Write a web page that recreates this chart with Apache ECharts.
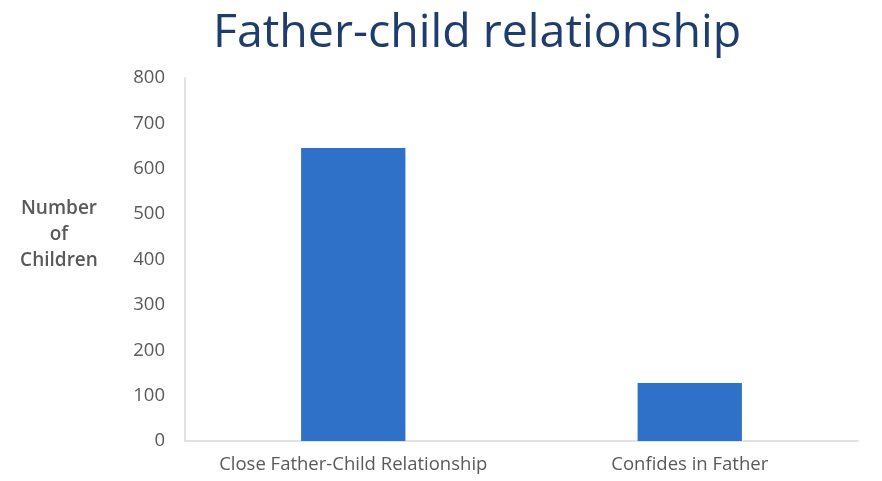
<!DOCTYPE html>
<html><head><meta charset="utf-8">
<script src="https://cdn.jsdelivr.net/npm/echarts@6/dist/echarts.min.js"></script>
<style>html,body{margin:0;padding:0;background:#fff}#c{width:882px;height:481px}</style>
</head><body><div id="c"></div>
<script>
const categories = ['Close Father-Child Relationship', 'Confides in Father'];
const values = [646, 128];
const yTicks = [0, 100, 200, 300, 400, 500, 600, 700, 800];
const titleText = 'Father-child relationship';
const yName = 'Number\nof\nChildren';

const chart = echarts.init(document.getElementById('c'));
chart.setOption({
  animation: false,
  title: {
    text: titleText, left: 472, top: 5, textAlign: 'center',
    textStyle: {fontFamily: 'Open Sans', fontSize: 46.5, fontWeight: 'normal', color: '#1F3D6C'}
  },
  graphic: [{
    type: 'text', x: 59, y: 196,
    style: {text: yName, fontFamily: 'Open Sans', fontSize: 19, fontWeight: 600, lineHeight: 26, fill: '#595959', align: 'center', verticalAlign: 'top'}
  }],
  grid: {left: 185, right: 24, top: 78, bottom: 40},
  xAxis: {
    type: 'category', data: categories,
    axisLine: {lineStyle: {color: '#d9d9d9', width: 1.5}},
    axisTick: {show: false},
    axisLabel: {color: '#595959', fontFamily: 'Open Sans', fontSize: 18.5, margin: 14, interval: 0}
  },
  yAxis: {
    type: 'value', min: yTicks[0], max: yTicks[yTicks.length - 1], interval: 100,
    axisLine: {show: true, lineStyle: {color: '#d9d9d9', width: 1.5}},
    axisTick: {show: false},
    splitLine: {show: false},
    axisLabel: {color: '#595959', fontFamily: 'Open Sans', fontSize: 18.5, margin: 20}
  },
  series: [{
    type: 'bar', data: values, barWidth: '31%',
    itemStyle: {color: '#2F70C9'}
  }]
});
</script></body></html>
